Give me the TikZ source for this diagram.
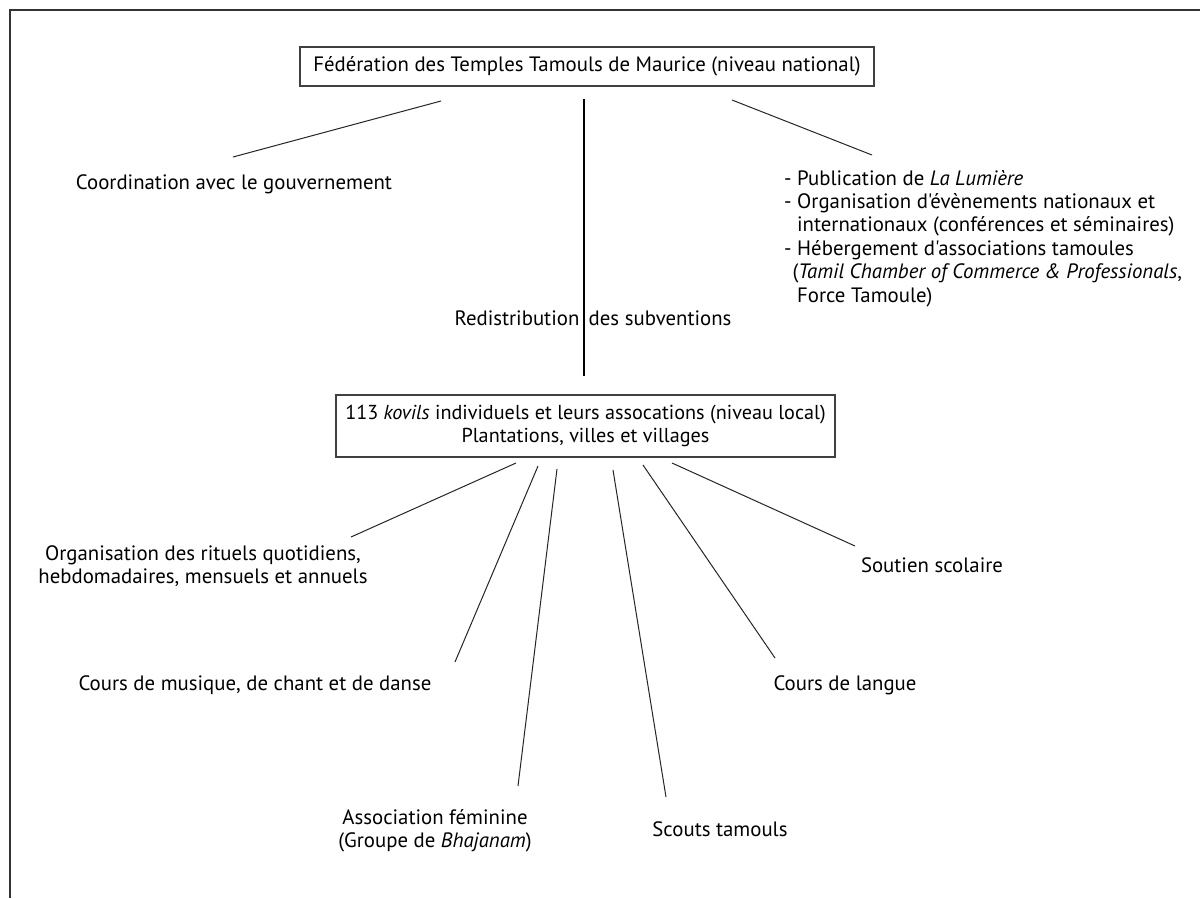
\documentclass[tikz,border=0pt]{standalone}
\usepackage{fontspec}
\setmainfont{PT Sans}[Ligatures=TeXOff]
\newcommand{\diagfont}{\fontsize{20.8}{23.4}\selectfont}
\newcommand{\boxfont}{\fontsize{20.2}{23.4}\selectfont}
\begin{document}
\begin{tikzpicture}[x=1pt,y=-1pt,
  lbl/.style={inner sep=0pt,font=\diagfont,align=center},
  boxed/.style={draw=black!75,line width=1.2pt,inner xsep=4pt,inner ysep=5pt,font=\diagfont,align=center},
  link/.style={line width=1pt,black!85},
  trunk/.style={line width=2.6pt,black}]
\useasboundingbox (0,0) rectangle (1200,898);
\fill[white] (0,0) rectangle (1200,898);
\draw[line width=2.2pt,black!80] (10,898) -- (10,10) -- (1200,10);

% top box
\node[boxed,minimum width=574pt,minimum height=39pt] (fed) at (587,66.5) {Fédération des Temples Tamouls de Maurice (niveau national)};
% lower box
\node[boxed,font=\boxfont,minimum width=499pt,minimum height=62pt] (kov) at (585.5,426)
  {113 \textit{kovils} individuels et leurs assocations (niveau local)\\Plantations, villes et villages};

% national level items
\node[lbl] (coord) at (234,184) {Coordination avec le gouvernement};
\node[lbl,align=left,anchor=north west] (pub) at (784,170)
  {- Publication de \textit{La Lumière}\\
   - Organisation d'évènements nationaux et\\
   \hspace*{0.62em}internationaux (conférences et séminaires)\\
   - Hébergement d'associations tamoules\\
   \hspace*{0.4em}(\textit{Tamil Chamber of Commerce \& Professionals},\\
   \hspace*{0.62em}Force Tamoule)};
\node[lbl] (redis) at (593,318) {Redistribution\hspace{0.45em}des subventions};

% local level items
\node[lbl] (rit) at (203,566) {Organisation des rituels quotidiens,\\hebdomadaires, mensuels et annuels};
\node[lbl] (mus) at (255,685) {Cours de musique, de chant et de danse};
\node[lbl] (fem) at (435,831) {Association féminine\\(Groupe de \textit{Bhajanam})};
\node[lbl] (sco) at (720,829) {Scouts tamouls};
\node[lbl] (lan) at (845,685) {Cours de langue};
\node[lbl] (sou) at (932,565) {Soutien scolaire};

% connector end points
\coordinate (fedL) at (441,101);
\coordinate (coordT) at (233,157);
\coordinate (fedR) at (732,100);
\coordinate (pubT) at (872,155);
\coordinate (trunkT) at (584,99);
\coordinate (trunkB) at (584,376);

\coordinate (k1) at (516,463);  \coordinate (e1) at (351,537);
\coordinate (k2) at (538,466);  \coordinate (e2) at (455,662);
\coordinate (k3) at (557,469);  \coordinate (e3) at (518,786);
\coordinate (k4) at (613,470);  \coordinate (e4) at (666,797);
\coordinate (k5) at (643,465);  \coordinate (e5) at (775,658);
\coordinate (k6) at (672,463);  \coordinate (e6) at (855,546);

\draw[link] (fedL) -- (coordT);
\draw[link] (fedR) -- (pubT);
\draw[trunk] (trunkT) -- (trunkB);
\draw[link] (k1) -- (e1);
\draw[link] (k2) -- (e2);
\draw[link] (k3) -- (e3);
\draw[link] (k4) -- (e4);
\draw[link] (k5) -- (e5);
\draw[link] (k6) -- (e6);
\end{tikzpicture}
\end{document}
